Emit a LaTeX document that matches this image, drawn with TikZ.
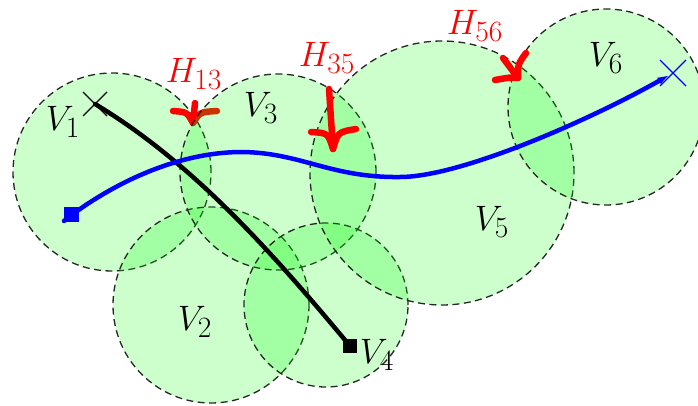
\documentclass[tikz,border=0pt]{standalone}
\usetikzlibrary{arrows.meta}
\newcommand{\biglab}[1]{\scalebox{1.42}{\Huge$#1$}}
\begin{document}
\begin{tikzpicture}[x=1pt,y=-1pt,
  region/.style={circle, inner sep=0pt, draw=black!85, dash pattern=on 7pt off 4.5pt,
    line width=1.3pt, fill=green, fill opacity=0.2, draw opacity=1},
  lab/.style={inner sep=0pt},
  hlab/.style={lab, text=red},
  harrow/.style={draw=red, line width=6.5pt, line cap=round, line join=round},
  pathline/.style={line width=4.5pt, line cap=round},
  crossmark/.style={line width=1.2pt}]
\useasboundingbox (0,0) rectangle (698,406);

% regions (first two)
\node[region, minimum size=198pt] (v1) at (112,172) {};
\node[region, minimum size=196pt] (v2) at (211,305) {};

% H13 arrow (below V3)
\coordinate (h13s) at (195,103);
\coordinate (h13t) at (193,123);
\coordinate (h13l) at (173,111);
\coordinate (h13r) at (217,111);
\draw[harrow] (h13s) -- (h13t);
\draw[harrow] (h13l) .. controls (187,112) .. (h13t) .. controls (200,112) .. (h13r);

% remaining regions
\node[region, minimum size=196pt] (v3) at (278,172) {};
\node[region, minimum size=164pt] (v4) at (326,305) {};
\node[region, minimum size=264pt] (v5) at (442,173) {};
\node[region, minimum size=196pt] (v6) at (606,107) {};

% H35, H56 arrows
\coordinate (h35s) at (329,89);
\coordinate (h35t) at (333,149);
\coordinate (h35l) at (311,132);
\coordinate (h35r) at (356,129);
\draw[harrow] (h35s) -- (h35t);
\draw[harrow] (h35l) .. controls (328,133) .. (h35t) .. controls (338,132) .. (h35r);
\coordinate (h56s) at (503,58);
\coordinate (h56t) at (518,78);
\coordinate (h56l) at (495,80);
\coordinate (h56u) at (526,53);
\draw[harrow] (h56s) -- (h56t);
\draw[harrow] (h56l) .. controls (512,77) .. (h56t) .. controls (518,64) .. (h56u);

% black path
\coordinate (ks) at (95,104);
\node[fill=black, inner sep=0pt, minimum size=14pt] (ke) at (350,346) {};
\draw[pathline, black] (ks) .. controls (195,164) and (275,256) .. (ke.center);
\draw[crossmark, black] ([shift={(-12,-12)}]ks) -- ([shift={(12,12)}]ks);
\draw[crossmark, black] ([shift={(-12,12)}]ks) -- ([shift={(12,-12)}]ks);

% blue path
\coordinate (bs) at (64,221);
\coordinate (b2) at (240,152);
\coordinate (b4) at (400,177);
\coordinate (be) at (673,73);
\draw[pathline, blue, -{Latex[length=16pt,width=7pt]}]
  (bs) .. controls (90,200) and (160,153) .. (b2)
       .. controls (300,152) and (330,178) .. (b4)
       .. controls (460,177) and (588,121) .. (be);
\node[fill=blue, inner sep=0pt, minimum size=15pt] (bsq) at (71,214) {};
\draw[crossmark, blue] ([shift={(-13,-13)}]be) -- ([shift={(13,13)}]be);
\draw[crossmark, blue] ([shift={(-13,13)}]be) -- ([shift={(13,-13)}]be);

% labels
\node[lab] (l1) at (63,122) {\biglab{V_1}};
\node[lab] (l2) at (195,322) {\biglab{V_2}};
\node[lab] (l3) at (261,108) {\biglab{V_3}};
\node[lab] (l4) at (377,355) {\biglab{V_4}};
\node[lab] (l5) at (492,222) {\biglab{V_5}};
\node[lab] (l6) at (606,58) {\biglab{V_6}};
\node[hlab] (t13) at (194,74) {\biglab{H_{13}}};
\node[hlab] (t35) at (327,58) {\biglab{H_{35}}};
\node[hlab] (t56) at (475,26) {\biglab{H_{56}}};
\end{tikzpicture}
\end{document}
